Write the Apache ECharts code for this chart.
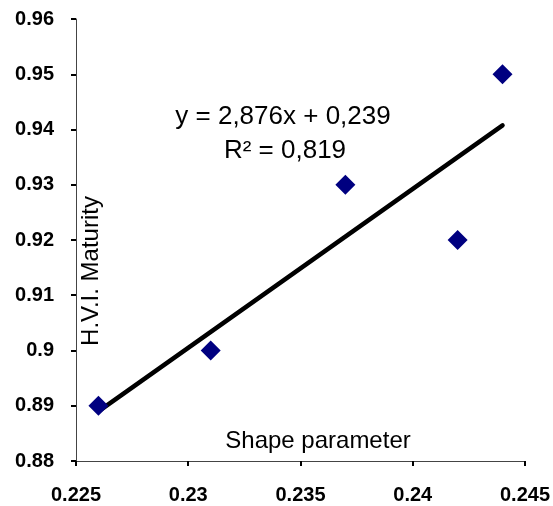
<!DOCTYPE html>
<html>
<head>
<meta charset="utf-8">
<script src="https://cdn.jsdelivr.net/npm/echarts@6/dist/echarts.min.js"></script>
<style>
	html, body { margin: 0; padding: 0; background: #fff; }
	#chart { width: 553px; height: 506px; }
</style>
</head>
<body>
<div id="chart"></div>
<script>
// measured points
const shapeParam = [0.226, 0.231, 0.237, 0.242, 0.244];
const hviMaturity = [0.89, 0.90, 0.93, 0.92, 0.95];

// linear fit as printed on the chart
const slope = 2.876;
const intercept = 0.239;
const equationLines = ['y = 2,876x + 0,239', 'R² = 0,819'];

const xTicks = ['0.225', '0.23', '0.235', '0.24', '0.245'];
const yTicks = ['0.88', '0.89', '0.9', '0.91', '0.92', '0.93', '0.94', '0.95', '0.96'];

const points = shapeParam.map((x, i) => [x, hviMaturity[i]]);
const xFirst = shapeParam[0];
const xLast = shapeParam[shapeParam.length - 1];
const trend = [[xFirst, slope * xFirst + intercept], [xLast, slope * xLast + intercept]];

const labelFont = 'Liberation Sans, Arial, sans-serif';

const chart = echarts.init(document.getElementById('chart'), null, { renderer: 'canvas' });

chart.setOption({
	animation: false,
	backgroundColor: '#fff',
	grid: { left: 76, right: 27, top: 19, bottom: 45, containLabel: false },
	xAxis: {
		type: 'value',
		min: 0.225,
		max: 0.245,
		interval: 0.005,
		axisLine: { show: true, lineStyle: { color: '#444', width: 1 } },
		axisTick: { show: true, length: 5, lineStyle: { color: '#000', width: 2 } },
		splitLine: { show: false },
		axisLabel: {
			margin: 24,
			color: '#000',
			fontFamily: labelFont,
			fontWeight: 'bold',
			fontSize: 20,
			formatter: (v) => xTicks[Math.round((v - 0.225) / 0.005)]
		}
	},
	yAxis: {
		type: 'value',
		min: 0.88,
		max: 0.96,
		interval: 0.01,
		axisLine: { show: true, lineStyle: { color: '#444', width: 1 } },
		axisTick: { show: true, length: 5, lineStyle: { color: '#000', width: 2 } },
		splitLine: { show: false },
		axisLabel: {
			margin: 22,
			color: '#000',
			fontFamily: labelFont,
			fontWeight: 'bold',
			fontSize: 20,
			formatter: (v) => yTicks[Math.round((v - 0.88) / 0.01)]
		}
	},
	series: [
		{
			type: 'line',
			data: trend,
			symbol: 'none',
			lineStyle: { color: '#000', width: 4.5, cap: 'round' },
			z: 2
		},
		{
			type: 'scatter',
			data: points,
			symbol: 'diamond',
			symbolSize: [20, 20],
			itemStyle: { color: '#000080', opacity: 1 },
			z: 3
		}
	],
	graphic: [
		{
			type: 'text',
			x: 283,
			y: 117,
			style: {
				text: equationLines[0],
				font: '26px ' + labelFont,
				fill: '#000',
				textAlign: 'center',
				textVerticalAlign: 'middle'
			}
		},
		{
			type: 'text',
			x: 285,
			y: 151,
			style: {
				text: equationLines[1],
				font: '26px ' + labelFont,
				fill: '#000',
				textAlign: 'center',
				textVerticalAlign: 'middle'
			}
		},
		{
			type: 'text',
			x: 318,
			y: 441,
			style: {
				text: 'Shape parameter',
				font: '24px ' + labelFont,
				fill: '#000',
				textAlign: 'center',
				textVerticalAlign: 'middle'
			}
		},
		{
			type: 'text',
			x: 91,
			y: 271,
			rotation: Math.PI / 2,
			style: {
				text: 'H.V.I. Maturity',
				font: '24px ' + labelFont,
				fill: '#000',
				textAlign: 'center',
				textVerticalAlign: 'middle'
			}
		}
	]
});
</script>
</body>
</html>
